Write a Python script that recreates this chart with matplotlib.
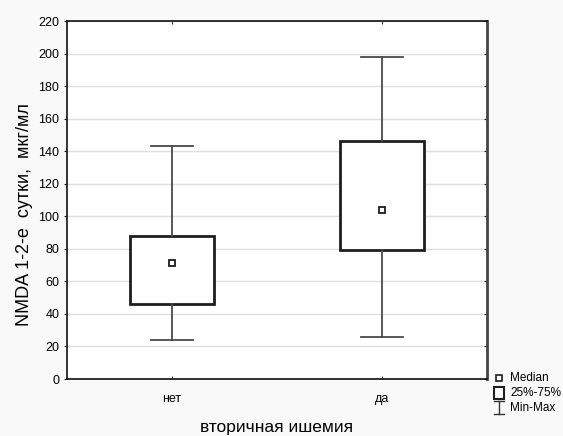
import numpy as np
import matplotlib.pyplot as plt
from matplotlib.lines import Line2D
from matplotlib.patches import Rectangle

plt.rcParams['font.family'] = ['Liberation Sans', 'DejaVu Sans']

groups = ['нет', 'да']
medians = [71, 104]
q1 = [46, 79]
q3 = [88, 146]
mins = [24, 26]
maxs = [143, 198]

fig = plt.figure(figsize=(5.63, 4.36), dpi=100, facecolor='#f9f9f9')
ax = fig.add_axes([67/563, 1 - 379/436, 420/563, 358/436])
ax.set_facecolor('white')

stats = []
for i in range(len(groups)):
    stats.append(dict(med=medians[i], q1=q1[i], q3=q3[i],
                      whislo=mins[i], whishi=maxs[i], fliers=[]))

pos = np.arange(1, len(groups) + 1)
ax.bxp(stats, positions=pos, widths=0.4, showfliers=False, patch_artist=True,
       boxprops=dict(facecolor='white', edgecolor='#1e1e1e', linewidth=2.0),
       whiskerprops=dict(color='#4a4a4a', linewidth=1.3),
       capprops=dict(color='#4a4a4a', linewidth=1.3),
       capwidths=0.2,
       medianprops=dict(visible=False), zorder=3)
ax.plot(pos, medians, 's', ms=5, mfc='white', mec='#1e1e1e', mew=1.3, zorder=4)

ax.set_xlim(0.5, 2.5)
ax.set_ylim(0, 220)
ax.set_yticks(np.arange(0, 221, 20))
ax.set_xticks(pos)
ax.set_xticklabels(groups)
ax.yaxis.grid(True, color='#dedede', linewidth=1.0)
ax.set_axisbelow(True)
ax.tick_params(axis='both', labelsize=9, width=0.8, color='#222222')
ax.tick_params(axis='x', direction='in', top=True, length=2.5, pad=10)
ax.tick_params(axis='y', direction='out', length=2.5, pad=3)
ax.tick_params(axis='y', which='major', right=True)
for t in ax.yaxis.get_ticklines()[1::2]:
    t.set_marker(0)  # right side ticks point inward
for s in ['left', 'bottom', 'top']:
    ax.spines[s].set_color('#111111')
    ax.spines[s].set_linewidth(1.2)
ax.spines['right'].set_color('#444444')
ax.spines['right'].set_linewidth(2.0)

ax.set_xlabel('вторичная ишемия', fontsize=12.5, labelpad=11)
ax.set_ylabel('NMDA 1-2-е  сутки,  мкг/мл', fontsize=13)
ax.yaxis.set_label_coords(-0.08, 0.46)

# legend drawn in figure pixels
fx = lambda x: x / 563
fy = lambda y: 1 - y / 436
fig.add_artist(Line2D([fx(499)], [fy(378)], marker='s', ms=4.5, mfc='white',
                      mec='#1e1e1e', mew=1.2, transform=fig.transFigure))
fig.add_artist(Rectangle((fx(494), fy(399)), 10 / 563, 12 / 436, facecolor='white',
                         edgecolor='#1e1e1e', linewidth=1.5, transform=fig.transFigure))
fig.add_artist(Line2D([fx(499), fx(499)], [fy(401), fy(414)], color='#333333',
                      linewidth=1.0, transform=fig.transFigure))
for yy in (401, 414):
    fig.add_artist(Line2D([fx(494), fx(504)], [fy(yy), fy(yy)], color='#333333',
                          linewidth=1.0, transform=fig.transFigure))
for txt, yy in [('Median', 378), ('25%-75%', 393), ('Min-Max', 408)]:
    fig.text(fx(510), fy(yy), txt, fontsize=8.5, va='center', ha='left')

fig.savefig('out.png', dpi=100, facecolor=fig.get_facecolor())
